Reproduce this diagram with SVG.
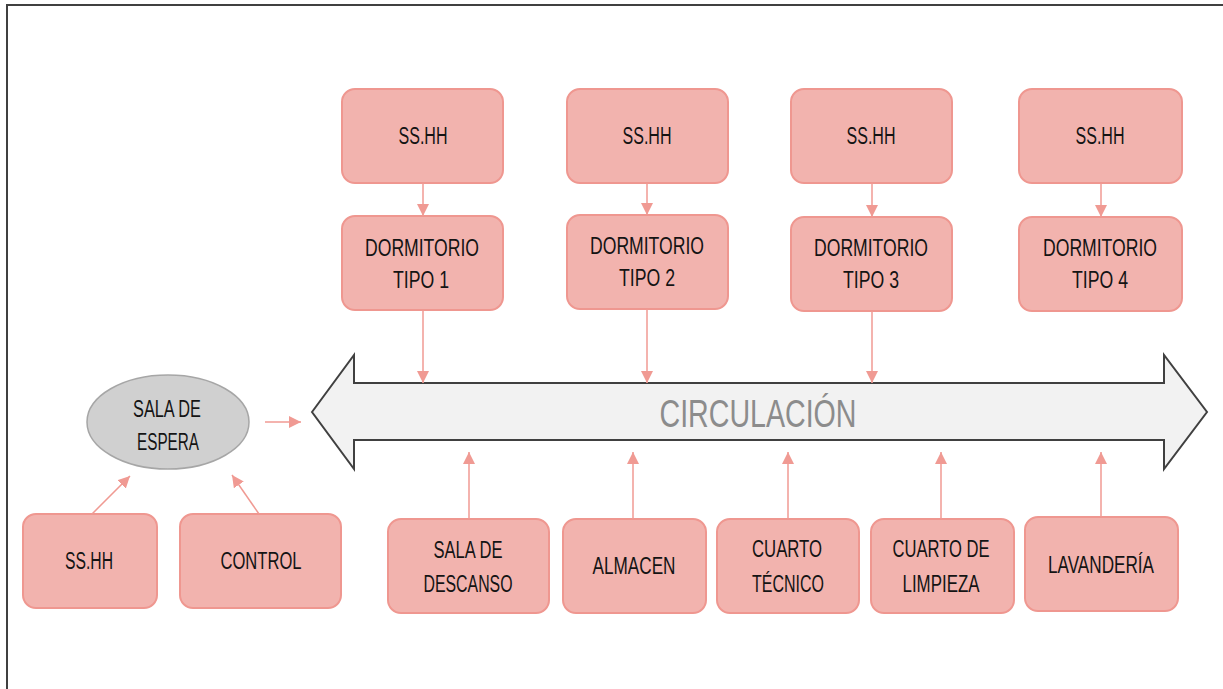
<svg xmlns="http://www.w3.org/2000/svg" width="1223" height="689" viewBox="0 0 1223 689">
<defs>
<style>
.box{fill:#f2b3ae;stroke:#ef9790;stroke-width:2}
.t{font-family:"Liberation Sans",Arial,sans-serif;font-size:23px;fill:#141414;text-anchor:middle}
.c{stroke:#f09a93;stroke-width:1.5;fill:none}
</style>
<marker id="ah" viewBox="0 0 12 12" refX="12" refY="6" markerWidth="12" markerHeight="12" markerUnits="userSpaceOnUse" orient="auto">
<path d="M0,0 L12,6 L0,12 Z" fill="#f09a93"/>
</marker>
</defs>
<rect x="0" y="0" width="1223" height="689" fill="#ffffff"/>
<path d="M7,689 L7,5 L1223,5" fill="none" stroke="#404040" stroke-width="2"/>

<g id="circulacion">
<path d="M312,412 L354,355 L354,383 L1164,383 L1164,355 L1207,412 L1164,469 L1164,440 L354,440 L354,469 Z" fill="#f2f2f2" stroke="#404040" stroke-width="2"/>
<text x="758" y="427" font-family="Liberation Sans,Arial,sans-serif" font-size="38" fill="#8c8c8c" text-anchor="middle" textLength="197" lengthAdjust="spacingAndGlyphs">CIRCULACIÓN</text>
</g>

<g id="sshh1"><rect class="box" x="342" y="89" width="161" height="94" rx="13"/><text class="t" x="423" y="144" textLength="49" lengthAdjust="spacingAndGlyphs">SS.HH</text></g>
<g id="sshh2"><rect class="box" x="567" y="89" width="161" height="94" rx="13"/><text class="t" x="647" y="144" textLength="49" lengthAdjust="spacingAndGlyphs">SS.HH</text></g>
<g id="sshh3"><rect class="box" x="791" y="89" width="161" height="94" rx="13"/><text class="t" x="871" y="144" textLength="49" lengthAdjust="spacingAndGlyphs">SS.HH</text></g>
<g id="sshh4"><rect class="box" x="1019" y="89" width="163" height="94" rx="13"/><text class="t" x="1100" y="144" textLength="49" lengthAdjust="spacingAndGlyphs">SS.HH</text></g>

<g id="dorm1"><rect class="box" x="342" y="216" width="161" height="94" rx="13"/><text class="t" x="422" y="256" textLength="114" lengthAdjust="spacingAndGlyphs">DORMITORIO</text><text class="t" x="421" y="288" textLength="56" lengthAdjust="spacingAndGlyphs">TIPO 1</text></g>
<g id="dorm2"><rect class="box" x="567" y="215" width="161" height="94" rx="13"/><text class="t" x="647" y="254" textLength="114" lengthAdjust="spacingAndGlyphs">DORMITORIO</text><text class="t" x="647" y="286" textLength="56" lengthAdjust="spacingAndGlyphs">TIPO 2</text></g>
<g id="dorm3"><rect class="box" x="791" y="217" width="161" height="94" rx="13"/><text class="t" x="871" y="256" textLength="114" lengthAdjust="spacingAndGlyphs">DORMITORIO</text><text class="t" x="871" y="288" textLength="56" lengthAdjust="spacingAndGlyphs">TIPO 3</text></g>
<g id="dorm4"><rect class="box" x="1019" y="217" width="163" height="94" rx="13"/><text class="t" x="1100" y="256" textLength="114" lengthAdjust="spacingAndGlyphs">DORMITORIO</text><text class="t" x="1100" y="288" textLength="56" lengthAdjust="spacingAndGlyphs">TIPO 4</text></g>

<g id="descanso"><rect class="box" x="388" y="519" width="161" height="94" rx="13"/><text class="t" x="468" y="558" textLength="69" lengthAdjust="spacingAndGlyphs">SALA DE</text><text class="t" x="468" y="592" textLength="89" lengthAdjust="spacingAndGlyphs">DESCANSO</text></g>
<g id="almacen"><rect class="box" x="563" y="519" width="143" height="94" rx="13"/><text class="t" x="634" y="574" textLength="83" lengthAdjust="spacingAndGlyphs">ALMACEN</text></g>
<g id="tecnico"><rect class="box" x="717" y="519" width="142" height="94" rx="13"/><text class="t" x="787" y="557" textLength="70" lengthAdjust="spacingAndGlyphs">CUARTO</text><text class="t" x="788" y="592" textLength="72" lengthAdjust="spacingAndGlyphs">TÉCNICO</text></g>
<g id="limpieza"><rect class="box" x="871" y="519" width="143" height="94" rx="13"/><text class="t" x="941" y="557" textLength="97" lengthAdjust="spacingAndGlyphs">CUARTO DE</text><text class="t" x="941" y="592" textLength="77" lengthAdjust="spacingAndGlyphs">LIMPIEZA</text></g>
<g id="lavanderia"><rect class="box" x="1025" y="517" width="153" height="94" rx="13"/><text class="t" x="1101" y="573" textLength="106" lengthAdjust="spacingAndGlyphs">LAVANDERÍA</text></g>

<g id="espera"><ellipse cx="168" cy="422" rx="81" ry="47" fill="#d0d0d0" stroke="#a6a6a6" stroke-width="1.5"/><text class="t" x="167" y="417" textLength="68" lengthAdjust="spacingAndGlyphs">SALA DE</text><text class="t" x="168" y="450" textLength="62" lengthAdjust="spacingAndGlyphs">ESPERA</text></g>
<g id="sshh5"><rect class="box" x="23" y="514" width="134" height="94" rx="13"/><text class="t" x="89" y="569" textLength="48" lengthAdjust="spacingAndGlyphs">SS.HH</text></g>
<g id="control"><rect class="box" x="180" y="514" width="161" height="94" rx="13"/><text class="t" x="261" y="569" textLength="81" lengthAdjust="spacingAndGlyphs">CONTROL</text></g>

<g id="connectors">
<line class="c" x1="423" y1="183" x2="423" y2="216" marker-end="url(#ah)"/>
<line class="c" x1="647" y1="183" x2="647" y2="215" marker-end="url(#ah)"/>
<line class="c" x1="872" y1="183" x2="872" y2="217" marker-end="url(#ah)"/>
<line class="c" x1="1101" y1="183" x2="1101" y2="217" marker-end="url(#ah)"/>
<line class="c" x1="423" y1="310" x2="423" y2="383" marker-end="url(#ah)"/>
<line class="c" x1="647" y1="309" x2="647" y2="383" marker-end="url(#ah)"/>
<line class="c" x1="872" y1="311" x2="872" y2="383" marker-end="url(#ah)"/>
<line class="c" x1="469" y1="519" x2="469" y2="452" marker-end="url(#ah)"/>
<line class="c" x1="633" y1="519" x2="633" y2="452" marker-end="url(#ah)"/>
<line class="c" x1="788" y1="519" x2="788" y2="452" marker-end="url(#ah)"/>
<line class="c" x1="941" y1="519" x2="941" y2="452" marker-end="url(#ah)"/>
<line class="c" x1="1101" y1="517" x2="1101" y2="452" marker-end="url(#ah)"/>
<line class="c" x1="265" y1="422" x2="301" y2="422" marker-end="url(#ah)"/>
<line class="c" x1="92" y1="514" x2="130" y2="476" marker-end="url(#ah)"/>
<line class="c" x1="259" y1="514" x2="232" y2="475" marker-end="url(#ah)"/>
</g>
</svg>
